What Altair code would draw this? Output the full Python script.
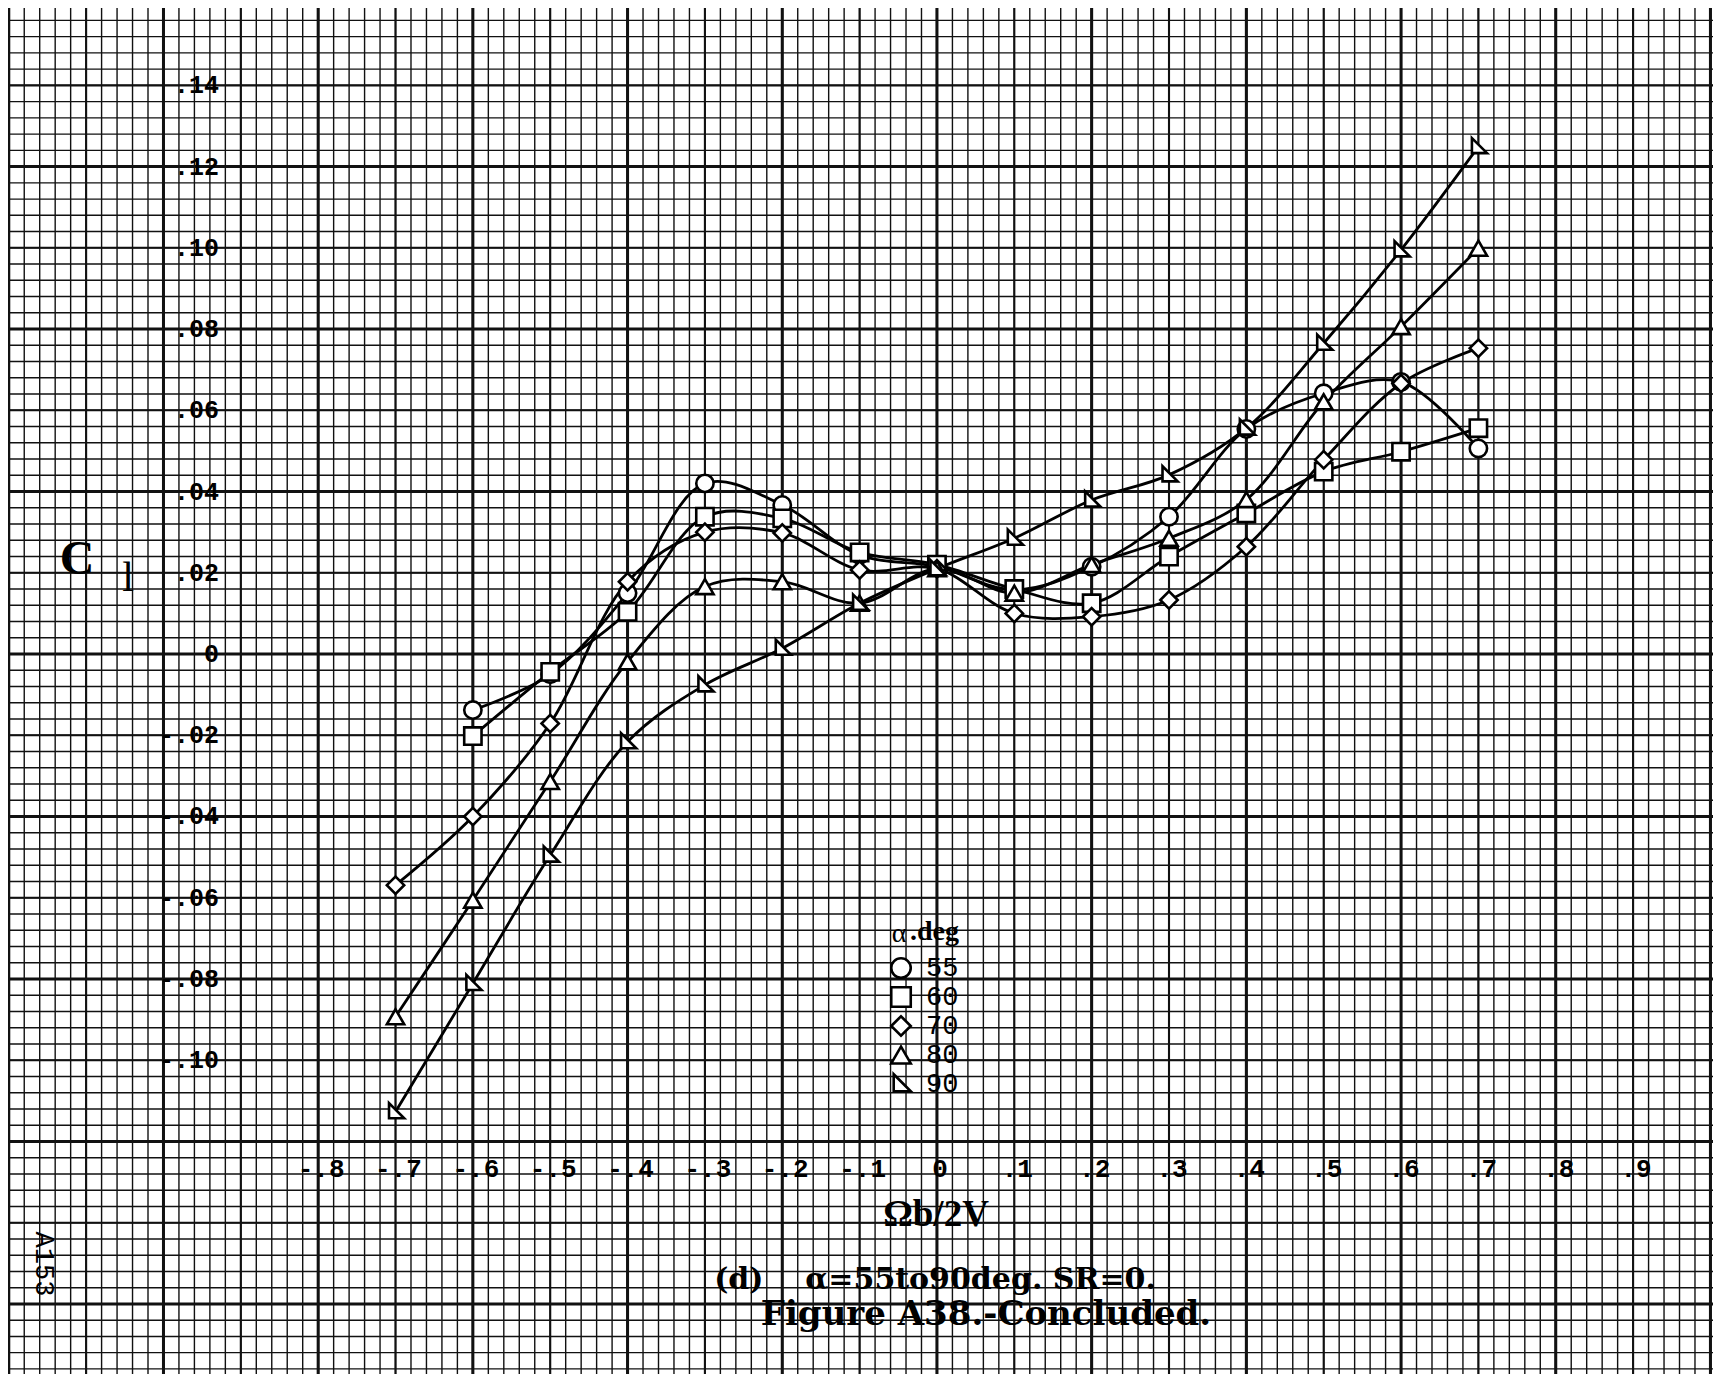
import altair as alt
import pandas as pd
import numpy as np

# ---------------- data ----------------
ALPHA = ["55", "60", "70", "80", "90"]
X_55 = [-0.6, -0.5, -0.4, -0.3, -0.2, -0.1, 0.0, 0.1, 0.2, 0.3, 0.4, 0.5, 0.6, 0.7]
CL_55 = [-0.0138, -0.0050, 0.0150, 0.0420, 0.0367, 0.0244, 0.0215, 0.0158, 0.0215, 0.0338, 0.0554, 0.0642, 0.0670, 0.0506]
X_60 = [-0.6, -0.5, -0.4, -0.3, -0.2, -0.1, 0.0, 0.1, 0.2, 0.3, 0.4, 0.5, 0.6, 0.7]
CL_60 = [-0.0202, -0.0044, 0.0104, 0.0338, 0.0334, 0.0250, 0.0220, 0.0160, 0.0125, 0.0240, 0.0346, 0.0449, 0.0498, 0.0556]
X_70 = [-0.7, -0.6, -0.5, -0.4, -0.3, -0.2, -0.1, 0.0, 0.1, 0.2, 0.3, 0.4, 0.5, 0.6, 0.7]
CL_70 = [-0.0569, -0.0400, -0.0171, 0.0178, 0.0300, 0.0298, 0.0207, 0.0210, 0.0100, 0.0092, 0.0133, 0.0264, 0.0478, 0.0666, 0.0753]
X_80 = [-0.7, -0.6, -0.5, -0.4, -0.3, -0.2, -0.1, 0.0, 0.1, 0.2, 0.3, 0.4, 0.5, 0.6, 0.7]
CL_80 = [-0.0893, -0.0606, -0.0314, -0.0019, 0.0166, 0.0178, 0.0125, 0.0210, 0.0150, 0.0220, 0.0285, 0.0380, 0.0621, 0.0806, 0.0999]
X_90 = [-0.7, -0.6, -0.5, -0.4, -0.3, -0.2, -0.1, 0.0, 0.1, 0.2, 0.3, 0.4, 0.5, 0.6, 0.7]
CL_90 = [-0.1127, -0.0811, -0.0495, -0.0216, -0.0076, 0.0014, 0.0125, 0.0210, 0.0285, 0.0379, 0.0441, 0.0556, 0.0765, 0.0995, 0.1249]

X_TICK_VALUES = [-0.8, -0.7, -0.6, -0.5, -0.4, -0.3, -0.2, -0.1, 0.0, 0.1, 0.2, 0.3, 0.4, 0.5, 0.6, 0.7, 0.8, 0.9]
X_TICK_LABELS = ["-.8", "-.7", "-.6", "-.5", "-.4", "-.3", "-.2", "-.1", "0", ".1", ".2", ".3", ".4", ".5", ".6", ".7", ".8", ".9"]
Y_TICK_VALUES = [0.14, 0.12, 0.10, 0.08, 0.06, 0.04, 0.02, 0.0, -0.02, -0.04, -0.06, -0.08, -0.10]
Y_TICK_LABELS = [".14", ".12", ".10", ".08", ".06", ".04", ".02", "0", "-.02", "-.04", "-.06", "-.08", "-.10"]

LEGEND_TITLE = "α"
LEGEND_TITLE2 = ".deg"
X_TITLE = "Ωb/2V"
CAPTION_1 = "(d)\u00a0\u00a0\u00a0\u00a0α=55to90deg.\u00a0SR=0."
CAPTION_2 = "Figure A38.-Concluded."
PAGE_NO = "A153"

# ---------------- layout ----------------
W, H = 1705, 1366
XMIN, XMAX = -1.2010, 1.0033
YMIN, YMAX = -0.17725, 0.15904
xs = alt.Scale(domain=[XMIN, XMAX], nice=False, zero=False)
ys = alt.Scale(domain=[YMIN, YMAX], nice=False, zero=False)

SHAPES = ["circle", "square", "diamond", "triangle-up", "M-0.75,-1L-0.75,0.75L1,0.75Z"]
shape_scale = alt.Scale(domain=ALPHA, range=SHAPES)

series = {"55": (X_55, CL_55), "60": (X_60, CL_60), "70": (X_70, CL_70),
          "80": (X_80, CL_80), "90": (X_90, CL_90)}
rows = []
for a, (xx, yy) in series.items():
    for xv, yv in zip(xx, yy):
        rows.append({"alpha": a, "x": xv, "cl": yv})
df = pd.DataFrame(rows)

# graph-paper grid
gx_minor = np.round(np.arange(-60, 51) * 0.02, 4)
gx_mid = np.round(np.arange(-12, 11) * 0.1, 4)
gx_major = np.round(np.arange(-6, 6) * 0.2, 4)
gy_minor = np.round(np.arange(-44, 40) * 0.004, 4)
gy_mid = np.round(np.arange(-8, 8) * 0.02, 4)
gy_major = np.round(np.arange(-4, 4) * 0.04, 4)


def vrules(vals, w):
    return alt.Chart(pd.DataFrame({"g": vals})).mark_rule(color="#111111", strokeWidth=w).encode(
        x=alt.X("g:Q", scale=xs, axis=None))


def hrules(vals, w):
    return alt.Chart(pd.DataFrame({"g": vals})).mark_rule(color="#111111", strokeWidth=w).encode(
        y=alt.Y("g:Q", scale=ys, axis=None))


grid = [vrules(gx_minor, 1.4), hrules(gy_minor, 1.4),
        vrules(gx_mid, 2.1), hrules(gy_mid, 2.1),
        vrules(gx_major, 3.0), hrules(gy_major, 3.0)]

lines = alt.Chart(df).mark_line(color="black", strokeWidth=2.8, interpolate="catmull-rom").encode(
    x=alt.X("x:Q", scale=xs, axis=None),
    y=alt.Y("cl:Q", scale=ys, axis=None),
    detail="alpha:N",
    order="x:Q",
)

points = alt.Chart(df).mark_point(filled=True, fill="white", stroke="black", strokeWidth=2.6,
                                  size=300, opacity=1, fillOpacity=1).encode(
    x=alt.X("x:Q", scale=xs, axis=None),
    y=alt.Y("cl:Q", scale=ys, axis=None),
    shape=alt.Shape("alpha:N", scale=shape_scale, legend=None),
)

# tick labels drawn on the paper
xt = alt.Chart(pd.DataFrame({"v": X_TICK_VALUES, "t": X_TICK_LABELS})).mark_text(
    font="Liberation Mono", fontWeight="bold", fontSize=26, align="center", baseline="middle", dx=3
).encode(x=alt.X("v:Q", scale=xs, axis=None), y=alt.value(1169 - 8), text="t:N")

yt = alt.Chart(pd.DataFrame({"v": Y_TICK_VALUES, "t": Y_TICK_LABELS})).mark_text(
    font="Liberation Mono", fontWeight="bold", fontSize=25, align="right", baseline="middle"
).encode(x=alt.value(219 - 8), y=alt.Y("v:Q", scale=ys, axis=None), text="t:N")

# legend (manual, on the paper)
LEG_X_SYM = 901 - 8
LEG_X_TXT = 926 - 8
LEG_Y0 = 968 - 8
LEG_DY = 29
leg = pd.DataFrame({"alpha": ALPHA, "i": list(range(len(ALPHA)))})
leg_sym = alt.Chart(leg).transform_calculate(py=f"{LEG_Y0} + datum.i * {LEG_DY}").mark_point(
    filled=True, fill="white", stroke="black", strokeWidth=2.6, size=380, opacity=1
).encode(x=alt.value(LEG_X_SYM), y=alt.Y("py:Q", scale=None),
         shape=alt.Shape("alpha:N", scale=shape_scale, legend=None))
leg_txt = alt.Chart(leg).transform_calculate(py=f"{LEG_Y0} + datum.i * {LEG_DY}").mark_text(
    font="Liberation Mono", fontSize=27, align="left", baseline="middle"
).encode(x=alt.value(LEG_X_TXT), y=alt.Y("py:Q", scale=None), text="alpha:N")


def label(txt, px, py, size, font="Liberation Serif", weight="bold", align="center", angle=0):
    return alt.Chart(pd.DataFrame({"t": [txt]})).mark_text(
        font=font, fontSize=size, fontWeight=weight, align=align, baseline="middle", angle=angle
    ).encode(x=alt.value(px - 8), y=alt.value(py - 8), text="t:N")


texts = [
    label(LEGEND_TITLE, 899, 934, 28, weight="normal"),
    label(LEGEND_TITLE2, 910, 932, 28, align="left"),
    label(X_TITLE, 936, 1215, 37),
    label(CAPTION_1, 935, 1280, 30, font="DejaVu Serif"),
    label(CAPTION_2, 986, 1315, 34, font="DejaVu Serif"),
    label("C", 77, 560, 48),
    label("l", 128, 578, 42, weight="normal"),
    label(PAGE_NO, 44, 1264, 27, font="Liberation Mono", weight="normal", angle=90),
]

chart = alt.layer(*grid, lines, points, xt, yt, leg_sym, leg_txt, *texts).properties(
    width=W, height=H, padding=0, autosize="none", background="white"
).configure_view(strokeWidth=0)

chart.save("out.html", embed_options={"renderer": "svg", "actions": False})
